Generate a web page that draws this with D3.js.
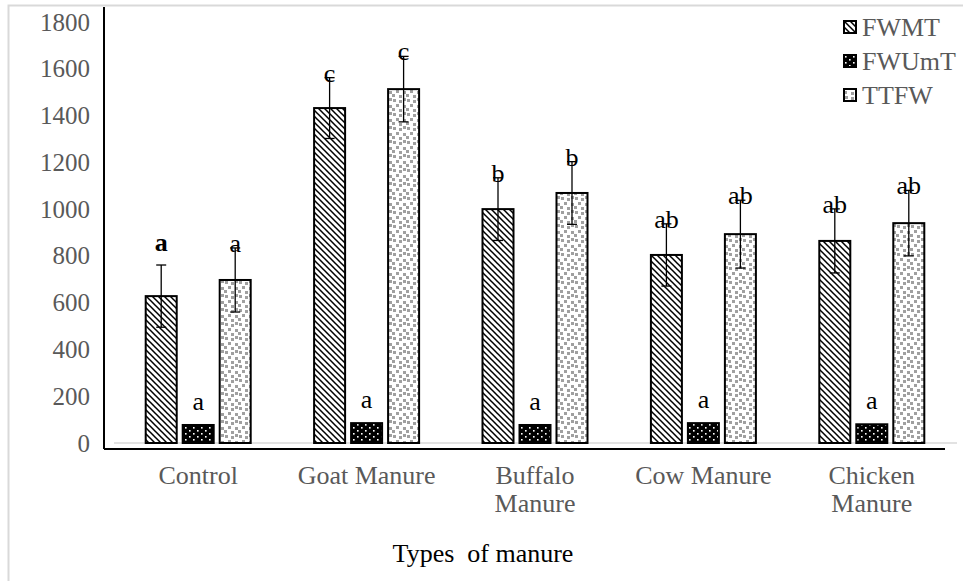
<!DOCTYPE html>
<html>
<head>
<meta charset="utf-8">
<script src="https://cdn.jsdelivr.net/npm/d3@7"></script>
<style>
  body { margin: 0; background: #fff; }
  svg { display: block; }
  svg text { font-family: 'Liberation Serif', 'DejaVu Serif', serif; }
</style>
</head>
<body>
<svg id="chart" width="963" height="581"></svg>
<script>
// данные
const categories = ['Control', 'Goat Manure', 'Buffalo Manure', 'Cow Manure', 'Chicken Manure']
const categoryLines = [['Control'], ['Goat Manure'], ['Buffalo', 'Manure'], ['Cow Manure'], ['Chicken', 'Manure']]
const seriesNames = ['FWMT', 'FWUmT', 'TTFW']
const fwmt = [628, 1432, 1000, 804, 864]
const fwmtErr = [133, 130, 134, 133, 137]
const fwumt = [77, 85, 77, 85, 80]
const fwumtErr = [0, 0, 0, 0, 0]
const ttfw = [697, 1513, 1069, 893, 940]
const ttfwErr = [137, 140, 134, 145, 140]
const fwmtLetters = ['a', 'c', 'b', 'ab', 'ab']
const fwumtLetters = ['a', 'a', 'a', 'a', 'a']
const ttfwLetters = ['a', 'c', 'b', 'ab', 'ab']
const yTicks = [0, 200, 400, 600, 800, 1000, 1200, 1400, 1600, 1800]

const values = [fwmt, fwumt, ttfw]
const errors = [fwmtErr, fwumtErr, ttfwErr]
const letters = [fwmtLetters, fwumtLetters, ttfwLetters]

const serif = "'Liberation Serif', 'DejaVu Serif', serif"

let rows = []
categories.forEach(function (c, i) {
  seriesNames.forEach(function (s, j) {
    rows.push({cat: c, ci: i, series: s, si: j, value: values[j][i], err: errors[j][i], letter: letters[j][i]})
  })
})

let svg = d3.select('#chart')

// рамка
svg.append('rect')
  .attr('x', 8.5).attr('y', 5.5)
  .attr('width', 970).attr('height', 600)
  .attr('fill', 'none').attr('stroke', '#d9d9d9').attr('stroke-width', 2)

// узоры
let defs = svg.append('defs')

let p1 = defs.append('pattern').attr('id', 'patFWMT')
  .attr('patternUnits', 'userSpaceOnUse').attr('width', 6).attr('height', 6)
p1.append('rect').attr('width', 6).attr('height', 6).attr('fill', '#fff')
p1.append('path').attr('d', 'M-1,-1 L7,7 M-1,5 L1,7 M5,-1 L7,1')
  .attr('stroke', '#000').attr('stroke-width', 1.5)

let p2 = defs.append('pattern').attr('id', 'patFWUmT')
  .attr('patternUnits', 'userSpaceOnUse').attr('width', 8).attr('height', 6)
p2.append('rect').attr('width', 8).attr('height', 6).attr('fill', '#000')
p2.append('rect').attr('x', 1).attr('y', 1).attr('width', 1.6).attr('height', 1.6).attr('fill', '#fff')
p2.append('rect').attr('x', 5).attr('y', 4).attr('width', 1.6).attr('height', 1.6).attr('fill', '#fff')

let p3 = defs.append('pattern').attr('id', 'patTTFW')
  .attr('patternUnits', 'userSpaceOnUse').attr('width', 14).attr('height', 14)
p3.append('rect').attr('width', 14).attr('height', 14).attr('fill', '#fff')
const confetti = [[1, 1], [7, 2], [11, 7], [4, 6], [0, 10], [7, 11], [11, 0]]
confetti.forEach(function (p) {
  p3.append('rect').attr('x', p[0]).attr('y', p[1]).attr('width', 3).attr('height', 3).attr('fill', '#a0a0a0')
})

const fills = {FWMT: 'url(#patFWMT)', FWUmT: 'url(#patFWUmT)', TTFW: 'url(#patTTFW)'}

// шкалы
let x0 = d3.scaleBand().domain(categories).range([114, 956])
let x1 = d3.scaleBand().domain(seriesNames).range([0, 105]).paddingInner(0.162)
let y = d3.scaleLinear().domain([0, 1800]).range([443, 22])

function groupLeft (c) { return x0(c) + x0.bandwidth() / 2 - 52.5 }

// базовая линия
svg.append('line')
  .attr('x1', 114).attr('x2', 957)
  .attr('y1', y(0)).attr('y2', y(0))
  .attr('stroke', '#d9d9d9').attr('stroke-width', 1.5)

// ось y
let gY = svg.append('g')
  .attr('transform', 'translate(90,0)')
  .call(d3.axisLeft(y).tickValues(yTicks).tickFormat(d3.format('d')).tickSize(0).tickPadding(0))
gY.attr('font-family', serif).attr('font-size', 25)
gY.select('.domain').remove()
gY.selectAll('text')
  .attr('fill', '#595959')
  .attr('font-family', serif)
  .style('font-size', '25px')

// столбцы
svg.selectAll('.bar')
  .data(rows)
  .enter()
  .append('rect')
  .attr('class', 'bar')
  .attr('x', function (d) { return groupLeft(d.cat) + x1(d.series) })
  .attr('y', function (d) { return y(d.value) })
  .attr('width', x1.bandwidth())
  .attr('height', function (d) { return y(0) - y(d.value) })
  .attr('fill', function (d) { return fills[d.series] })
  .attr('stroke', '#000')
  .attr('stroke-width', 2)

// планки погрешностей
let errRows = rows.filter(function (d) { return d.err > 0 })
let eg = svg.selectAll('.err').data(errRows).enter().append('g').attr('class', 'err')
function cx (d) { return groupLeft(d.cat) + x1(d.series) + x1.bandwidth() / 2 }
eg.append('line')
  .attr('x1', cx).attr('x2', cx)
  .attr('y1', function (d) { return y(d.value - d.err) })
  .attr('y2', function (d) { return y(d.value + d.err) })
  .attr('stroke', '#000').attr('stroke-width', 1.3)
eg.append('line')
  .attr('x1', function (d) { return cx(d) - 5 })
  .attr('x2', function (d) { return cx(d) + 5 })
  .attr('y1', function (d) { return y(d.value + d.err) })
  .attr('y2', function (d) { return y(d.value + d.err) })
  .attr('stroke', '#000').attr('stroke-width', 1.3)
eg.append('line')
  .attr('x1', function (d) { return cx(d) - 5 })
  .attr('x2', function (d) { return cx(d) + 5 })
  .attr('y1', function (d) { return y(d.value - d.err) })
  .attr('y2', function (d) { return y(d.value - d.err) })
  .attr('stroke', '#000').attr('stroke-width', 1.3)

// буквы значимости
svg.selectAll('.letter')
  .data(rows)
  .enter()
  .append('text')
  .attr('class', 'letter')
  .attr('x', cx)
  .attr('y', function (d) {
    if (d.err > 0) return y(d.value + d.err) + (d.ci === 0 && d.si === 0 ? -14 : 4)
    return y(d.value) - 15
  })
  .attr('text-anchor', 'middle')
  .attr('fill', '#000')
  .attr('font-family', serif)
  .style('font-size', '26px')
  .style('font-weight', function (d) { return d.ci === 0 && d.si === 0 ? 'bold' : 'normal' })
  .text(function (d) { return d.letter })

// рамка осей
svg.append('line').attr('x1', 104).attr('x2', 104).attr('y1', 7).attr('y2', 449)
  .attr('stroke', '#000').attr('stroke-width', 2)
svg.append('line').attr('x1', 104).attr('x2', 945).attr('y1', 449).attr('y2', 449)
  .attr('stroke', '#000').attr('stroke-width', 2)

// подписи категорий
let catText = svg.selectAll('.cat')
  .data(categories)
  .enter()
  .append('text')
  .attr('class', 'cat')
  .attr('text-anchor', 'middle')
  .attr('fill', '#595959')
  .attr('font-family', serif)
  .style('font-size', '26px')
catText.selectAll('tspan')
  .data(function (d, i) { return categoryLines[i].map(function (t) { return {t: t, c: d} }) })
  .enter()
  .append('tspan')
  .attr('x', function (d) { return x0(d.c) + x0.bandwidth() / 2 })
  .attr('y', function (d, k) { return 484 + k * 28 })
  .text(function (d) { return d.t })

// подпись оси x
svg.append('text')
  .attr('x', 483).attr('y', 562)
  .attr('text-anchor', 'middle')
  .attr('fill', '#000')
  .attr('font-family', serif)
  .style('font-size', '26px')
  .style('white-space', 'pre')
  .text('Types  of manure')

// легенда
let lg = svg.selectAll('.legend')
  .data(seriesNames)
  .enter()
  .append('g')
  .attr('class', 'legend')
  .attr('transform', function (d, i) { return 'translate(844,' + (27 + i * 34) + ')' })
lg.append('rect')
  .attr('x', 0).attr('y', -6).attr('width', 12).attr('height', 12)
  .attr('fill', function (d) { return fills[d] })
  .attr('stroke', '#000').attr('stroke-width', 2)
lg.append('text')
  .attr('x', 18).attr('y', 9)
  .attr('fill', '#595959')
  .attr('font-family', serif)
  .style('font-size', '26px')
  .text(function (d) { return d })
</script>
</body>
</html>
